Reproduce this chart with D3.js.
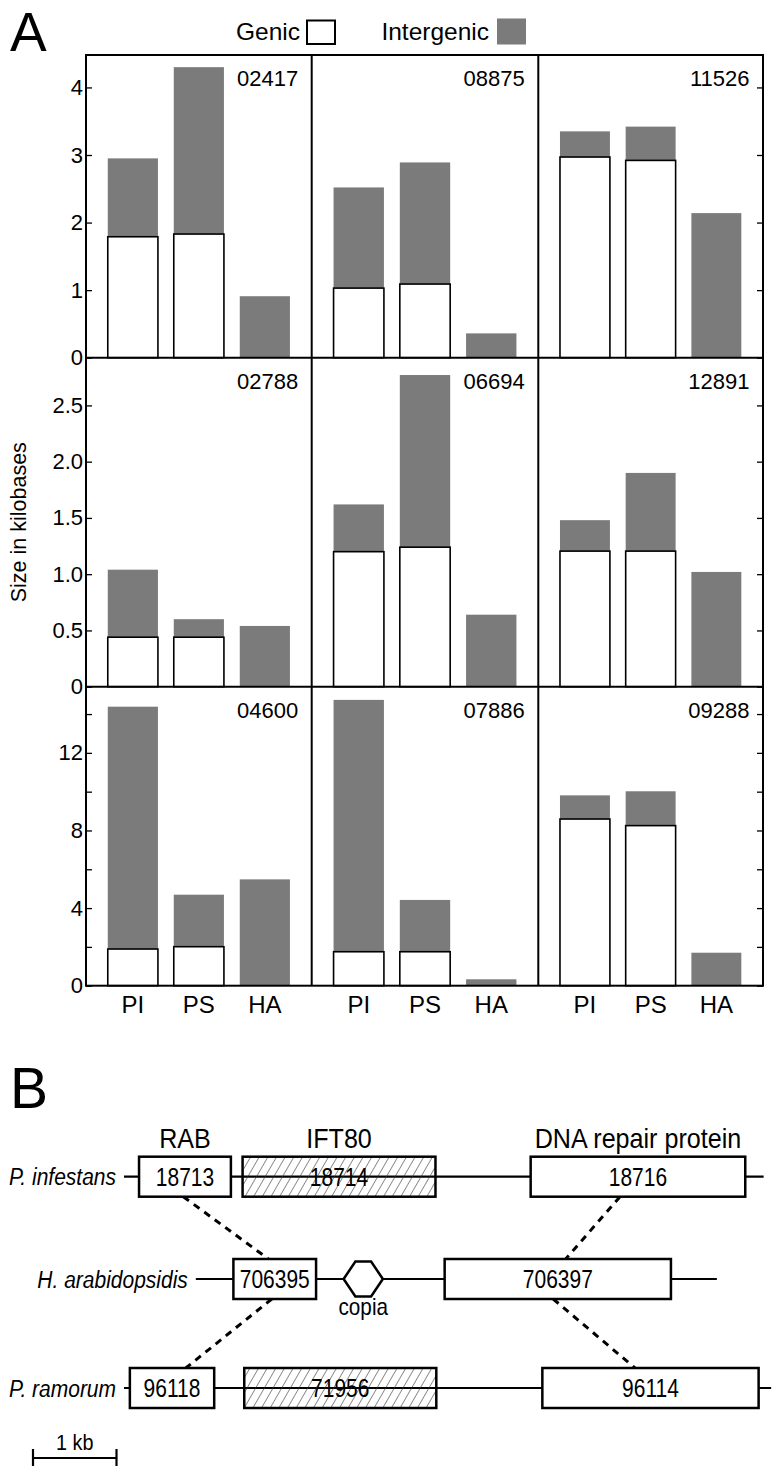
<!DOCTYPE html>
<html>
<head>
<meta charset="utf-8">
<script src="https://cdn.jsdelivr.net/npm/d3@7"></script>
<style>
  html, body { margin: 0; padding: 0; background: #fff; }
  svg { display: block; font-family: "Liberation Sans", Arial, sans-serif; }
</style>
</head>
<body>
<svg id="chart" width="772" height="1472"></svg>
<script>
// ---------------- DATA ----------------
// Panel A
const panelIds = ["02417", "08875", "11526", "02788", "06694", "12891", "04600", "07886", "09288"];
const speciesCodes = ["PI", "PS", "HA"];
// kilobases, one triple (PI, PS, HA) per panel
const genicKb = [
  [1.79, 1.83, 0], [1.03, 1.09, 0], [2.97, 2.92, 0],
  [0.44, 0.44, 0], [1.20, 1.24, 0], [1.205, 1.205, 0],
  [1.89, 2.01, 0], [1.75, 1.75, 0], [8.59, 8.25, 0]
];
const intergenicKb = [
  [1.16, 2.47, 0.91], [1.49, 1.80, 0.36], [0.38, 0.50, 2.14],
  [0.60, 0.16, 0.54], [0.42, 1.53, 0.64], [0.275, 0.695, 1.02],
  [12.49, 2.68, 5.48], [12.98, 2.67, 0.33], [1.22, 1.77, 1.70]
];
const rowMaxKb = [4.48, 2.924, 15.41];
const rowTickValues = [[0, 1, 2, 3, 4], [0, 0.5, 1, 1.5, 2, 2.5], [0, 2, 4, 6, 8, 10, 12, 14]];
const rowTickLabels = [
  ["0", "1", "2", "3", "4"],
  ["0", "0.5", "1.0", "1.5", "2.0", "2.5"],
  ["0", "", "4", "", "8", "", "12", ""]
];
const legendLabels = ["Genic", "Intergenic"];
const yAxisTitle = "Size in kilobases";

// Panel B (positions in kb)
const speciesNames = ["P. infestans", "H. arabidopsidis", "P. ramorum"];
const chromosomeKb = [[1.09, 8.75], [1.95, 8.19], [1.09, 8.84]];
const geneIds   = ["18713", "18714", "18716", "706395", "706397", "96118", "71956", "96114"];
const geneRow   = [0, 0, 0, 1, 1, 2, 2, 2];
const geneStart = [1.27, 2.51, 5.96, 2.40, 4.93, 1.16, 2.53, 6.10];
const geneEnd   = [2.37, 4.82, 8.53, 3.39, 7.64, 2.17, 4.83, 8.69];
const geneHatched = [false, true, false, false, false, false, true, false];
const geneNames = ["RAB", "IFT80", "DNA repair protein"];
const geneNameOf = ["18713", "18714", "18716"];
const teName = "copia";
const teRow = 1, teStart = 3.72, teEnd = 4.19;
// connectors: [fromRow, fromKb, toRow, toKb]
const connectors = [[0, 1.80, 1, 2.82], [0, 7.03, 1, 6.38], [1, 2.86, 2, 1.83], [1, 6.23, 2, 7.21]];
const scaleBarKb = [0, 1];
const scaleBarLabel = "1 kb";

// ---------------- LAYOUT ----------------
const svg = d3.select("#chart");
const FONT = '"Liberation Sans", Arial, sans-serif';
const GREY = "#7b7b7b";
const colEdges = [86, 311.7, 538.3, 763];
const rowEdges = [55, 357.7, 686.7, 985.7];

const defs = svg.append("defs");
const pat = defs.append("pattern").attr("id", "hatch").attr("patternUnits", "userSpaceOnUse")
  .attr("width", 7.5).attr("height", 7.5).attr("patternTransform", "rotate(30)");
pat.append("line").attr("x1", 0).attr("y1", 0).attr("x2", 0).attr("y2", 7.5)
  .attr("stroke", "#333").attr("stroke-width", 1.1);

// condensed text helper (panel B lettering is narrow)
function ctext(parent, x, y, str, size, sx, anchor, extra) {
  const t = parent.append("text").attr("transform", `translate(${x},${y}) scale(${sx},1)`)
    .attr("text-anchor", anchor).attr("font-size", size).text(str);
  if (extra) extra(t);
  return t;
}

// Panel letters
svg.append("text").attr("x", 10).attr("y", 51).attr("font-size", 55).text("A");
svg.append("text").attr("x", 10).attr("y", 1108).attr("font-size", 57).text("B");

// Legend
const leg = svg.append("g").attr("font-size", 24.5);
leg.append("text").attr("x", 300).attr("y", 40).attr("text-anchor", "end").text(legendLabels[0]);
leg.append("rect").attr("x", 307).attr("y", 20.5).attr("width", 28).attr("height", 23.5)
  .attr("fill", "#fff").attr("stroke", "#000").attr("stroke-width", 2);
leg.append("text").attr("x", 489).attr("y", 40).attr("text-anchor", "end").text(legendLabels[1]);
leg.append("rect").attr("x", 497).attr("y", 18.5).attr("width", 29).attr("height", 26).attr("fill", GREY);

// Y axis title
svg.append("text").attr("transform", `translate(26,${(rowEdges[1] + rowEdges[2]) / 2}) rotate(-90)`)
  .attr("text-anchor", "middle").attr("font-size", 21.5).text(yAxisTitle);

// Panels
panelIds.forEach((pid, i) => {
  const r = Math.floor(i / 3), c = i % 3;
  const x0 = colEdges[c], x1 = colEdges[c + 1];
  const y = d3.scaleLinear().domain([0, rowMaxKb[r]]).range([rowEdges[r + 1], rowEdges[r]]);
  const x = d3.scaleBand().domain(speciesCodes).range([x0, x1]).paddingInner(0.24).paddingOuter(0.33);
  const g = svg.append("g");
  speciesCodes.forEach((sp, k) => {
    const gen = genicKb[i][k], inter = intergenicKb[i][k];
    g.append("rect").attr("x", x(sp)).attr("width", x.bandwidth())
      .attr("y", y(gen + inter)).attr("height", y(gen) - y(gen + inter)).attr("fill", GREY);
    if (gen > 0) {
      g.append("rect").attr("x", x(sp)).attr("width", x.bandwidth())
        .attr("y", y(gen)).attr("height", y(0) - y(gen))
        .attr("fill", "#fff").attr("stroke", "#000").attr("stroke-width", 1.6);
    }
  });
  g.append("text").attr("x", x1 - 13.5).attr("y", rowEdges[r] + 31)
    .attr("text-anchor", "end").attr("font-size", 22).text(pid);

  if (c === 0) {
    const ax = d3.axisLeft(y).tickValues(rowTickValues[r]).tickSize(-6).tickPadding(3)
      .tickFormat((d, j) => rowTickLabels[r][j]);
    const ag = svg.append("g").attr("transform", `translate(${x0},0)`).call(ax);
    ag.select(".domain").remove();
    ag.selectAll("line").attr("stroke", "#000").attr("stroke-width", 1.3);
    ag.selectAll("text").attr("font-size", 22).attr("font-family", FONT).attr("fill", "#000");
  }
  if (c === 2) {
    const ax = d3.axisRight(y).tickValues(rowTickValues[r]).tickSize(-6).tickFormat("");
    const ag = svg.append("g").attr("transform", `translate(${x1},0)`).call(ax);
    ag.select(".domain").remove();
    ag.selectAll("line").attr("stroke", "#000").attr("stroke-width", 1.3);
  }
  if (r === 2) {
    const ax = d3.axisBottom(x).tickSize(0).tickPadding(10);
    const ag = svg.append("g").attr("transform", `translate(0,${rowEdges[3]})`).call(ax);
    ag.select(".domain").remove();
    ag.selectAll("text").attr("font-size", 24).attr("font-family", FONT).attr("fill", "#000");
  }
});

// Frame
const frame = svg.append("g").attr("stroke", "#000").attr("stroke-width", 2).attr("fill", "none");
frame.append("rect").attr("x", colEdges[0]).attr("y", rowEdges[0])
  .attr("width", colEdges[3] - colEdges[0]).attr("height", rowEdges[3] - rowEdges[0]);
[1, 2].forEach(k => {
  frame.append("line").attr("x1", colEdges[k]).attr("x2", colEdges[k]).attr("y1", rowEdges[0]).attr("y2", rowEdges[3]);
  frame.append("line").attr("x1", colEdges[0]).attr("x2", colEdges[3]).attr("y1", rowEdges[k]).attr("y2", rowEdges[k]);
});

// ---------------- PANEL B ----------------
const kb = d3.scaleLinear().domain([0, 1]).range([33, 116.5]);
const rowY = [1176.7, 1279, 1388];
const boxH = 40;
const B = svg.append("g");

// connectors (dashed)
connectors.forEach(([fr, fk, tr, tk]) => {
  const y1 = rowY[fr] + boxH / 2, y2 = rowY[tr] - boxH / 2;
  B.append("line").attr("x1", kb(fk)).attr("y1", y1).attr("x2", kb(tk)).attr("y2", y2)
    .attr("stroke", "#000").attr("stroke-width", 3).attr("stroke-dasharray", "7,6");
});

// chromosome lines + species names
speciesNames.forEach((name, r) => {
  B.append("line").attr("x1", kb(chromosomeKb[r][0])).attr("x2", kb(chromosomeKb[r][1]))
    .attr("y1", rowY[r]).attr("y2", rowY[r]).attr("stroke", "#000").attr("stroke-width", 2.2);
  ctext(B, kb(chromosomeKb[r][0]) - 8, rowY[r] + 8.5, name, 24, 0.875, "end",
    t => t.attr("font-style", "italic"));
});

// genes
geneIds.forEach((id, i) => {
  const xa = kb(geneStart[i]), xb = kb(geneEnd[i]), cy = rowY[geneRow[i]];
  B.append("rect").attr("x", xa).attr("y", cy - boxH / 2).attr("width", xb - xa).attr("height", boxH)
    .attr("fill", geneHatched[i] ? "url(#hatch)" : "#fff");
  B.append("rect").attr("x", xa).attr("y", cy - boxH / 2).attr("width", xb - xa).attr("height", boxH)
    .attr("fill", "none").attr("stroke", "#000").attr("stroke-width", 2.5);
  ctext(B, (xa + xb) / 2, cy + 9, id, 25, 0.84, "middle");
  const ni = geneNameOf.indexOf(id);
  if (ni >= 0) {
    ctext(B, (xa + xb) / 2, cy - boxH / 2 - 9, geneNames[ni], 27, 0.93, "middle");
  }
});

// transposable element (hexagon)
{
  const xa = kb(teStart), xb = kb(teEnd), cy = rowY[teRow], h = 17.5, ins = (xb - xa) * 0.3;
  const pts = [[xa, cy], [xa + ins, cy - h], [xb - ins, cy - h], [xb, cy], [xb - ins, cy + h], [xa + ins, cy + h]];
  B.append("polygon").attr("points", pts.map(p => p.join(",")).join(" "))
    .attr("fill", "#fff").attr("stroke", "#000").attr("stroke-width", 2.5);
  ctext(B, (xa + xb) / 2, cy + h + 18, teName, 23, 0.9, "middle");
}

// scale bar
{
  const xa = kb(scaleBarKb[0]), xb = kb(scaleBarKb[1]), yb = 1458;
  const sb = B.append("g").attr("stroke", "#000").attr("stroke-width", 2.2);
  sb.append("line").attr("x1", xa).attr("x2", xb).attr("y1", yb).attr("y2", yb);
  sb.append("line").attr("x1", xa).attr("x2", xa).attr("y1", yb - 9).attr("y2", yb + 8);
  sb.append("line").attr("x1", xb).attr("x2", xb).attr("y1", yb - 9).attr("y2", yb + 8);
  ctext(B, (xa + xb) / 2, 1450, scaleBarLabel, 22, 0.9, "middle");
}
</script>
</body>
</html>
